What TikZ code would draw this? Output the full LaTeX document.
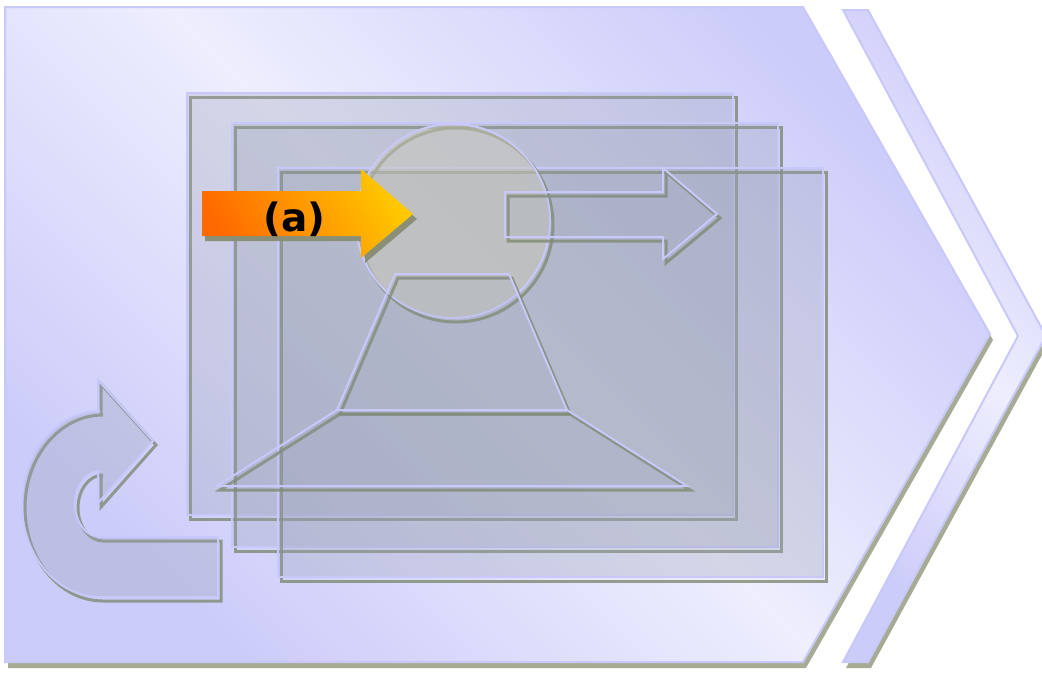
\documentclass[tikz,border=0pt]{standalone}
\usepackage{fontspec}
\newfontfamily\labelfont{DejaVu Sans}
\definecolor{lav}{RGB}{200,200,250}
\definecolor{bgdark}{RGB}{204,204,250}
\definecolor{bglight}{RGB}{238,238,254}
\definecolor{shad}{RGB}{128,138,115}
\definecolor{mainshad}{RGB}{166,172,148}
\definecolor{glass}{RGB}{153,160,180}
\definecolor{disc}{RGB}{200,200,185}
\definecolor{orangedark}{RGB}{255,106,0}
\definecolor{orangelight}{RGB}{255,200,0}
\definecolor{arrowshad}{RGB}{138,144,120}
\tikzset{
  panel/.style={fill=glass, fill opacity=0.3, draw=lav, line width=2pt},
  discstyle/.style={fill=disc, fill opacity=0.5, draw=lav, line width=2pt},
  faint/.style={fill=glass, fill opacity=0.12, draw=lav, line width=2pt},
  dropline/.style={draw=shad, draw opacity=0.8, line width=3pt},
  bigshape/.style={top color=bgdark, bottom color=bgdark, middle color=bglight, shading angle=-45, draw=lav, line width=2pt},
}
\begin{document}
\begin{tikzpicture}[x=1pt,y=-1pt]
\useasboundingbox[fill=white] (0,0) rectangle (1042,678);
% main chevron
\fill[mainshad] (8,13) -- (806,13) -- (993,340) -- (806,668) -- (8,668) -- cycle;
\shade[bigshape] (5,7) -- (803,7) -- (990,334) -- (803,662) -- (5,662) -- cycle;
% second chevron
\fill[mainshad] (846,16) -- (871,16) -- (1049,342) -- (871,668) -- (846,668) -- (1021,342) -- cycle;
\shade[bigshape] (843,10) -- (868,10) -- (1046,336) -- (868,662) -- (843,662) -- (1018,336) -- cycle;
% panels
\draw[dropline] (190,97) rectangle (736,519);
\draw[panel] (187,93) rectangle (733,515);
\draw[dropline] (235,127) rectangle (781,551);
\draw[panel] (232,123) rectangle (778,547);
\draw[dropline] (281,172) rectangle (826,581);
\draw[panel] (278,168) rectangle (823,577);
% disc
\draw[dropline] (456,225) circle[radius=97];
\draw[discstyle] (453,221) circle[radius=97];
% trapezoids
\draw[dropline] (398,278) -- (512,278) -- (570,414) -- (340,414) -- cycle;
\draw[faint] (395,274) -- (509,274) -- (567,410) -- (337,410) -- cycle;
\draw[dropline] (340,414) -- (570,414) -- (690,490) -- (220,490) -- cycle;
\draw[faint] (337,410) -- (567,410) -- (687,486) -- (217,486) -- cycle;
% gray arrow
\draw[dropline] (508,196) -- (666,196) -- (666,172) -- (720,218) -- (666,263) -- (666,241) -- (508,241) -- cycle;
\draw[faint] (505,192) -- (663,192) -- (663,168) -- (717,214) -- (663,259) -- (663,237) -- (505,237) -- cycle;
% orange arrow
\fill[arrowshad] (205,196) -- (365,196) -- (365,174) -- (417,219) -- (365,263) -- (365,241) -- (205,241) -- cycle;
\shade[top color=orangelight, bottom color=orangedark, shading angle=-60] (202,191) -- (361,191) -- (361,169) -- (413,214) -- (361,258) -- (361,236) -- (202,236) -- cycle;
\node[anchor=base, inner sep=0pt, font=\labelfont\bfseries\fontsize{39}{42}\selectfont] (lbl) at (294.5,231) {(a)};
% curved arrow
\draw[dropline] (221,541) -- (221,601) -- (103,601) arc[start angle=90, end angle=270, x radius=78, y radius=93] -- (101,415) -- (101,384) -- (156,445) -- (101,507) -- (101,475) -- (103,475) arc[start angle=270, end angle=90, x radius=25, y radius=33] -- cycle;
\draw[panel] (218,537) -- (218,597) -- (100,597) arc[start angle=90, end angle=270, x radius=78, y radius=93] -- (98,411) -- (98,380) -- (153,441) -- (98,503) -- (98,471) -- (100,471) arc[start angle=270, end angle=90, x radius=25, y radius=33] -- cycle;
\end{tikzpicture}
\end{document}
